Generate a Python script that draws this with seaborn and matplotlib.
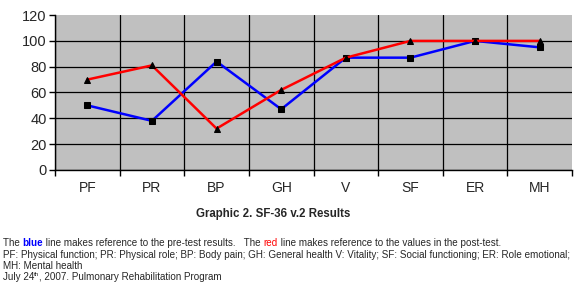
import numpy as np
import pandas as pd
import matplotlib
matplotlib.use("Agg")
import matplotlib.pyplot as plt
import seaborn as sns

categories = ["PF", "PR", "BP", "GH", "V", "SF", "ER", "MH"]
pre_test = [50, 38, 84, 47, 87, 87, 100, 95]
post_test = [70, 81, 32, 62, 87, 100, 100, 100]

sns.set_style("white")
plt.rcParams["font.family"] = ["Liberation Sans", "DejaVu Sans"]

fig = plt.figure(figsize=(5.79, 2.85), dpi=100)
ax = fig.add_axes([0.095, 0.404, 0.893, 0.543])

pos = np.arange(len(categories))
df = pd.DataFrame({"pos": np.concatenate([pos, pos]),
                   "value": pre_test + post_test,
                   "serie": ["pre"] * len(pos) + ["post"] * len(pos)})

sns.lineplot(data=df[df.serie == "pre"], x="pos", y="value", color="#0000FF",
             lw=1.8, marker="s", markersize=4.5, markerfacecolor="black",
             markeredgecolor="black", ax=ax, zorder=3)
sns.lineplot(data=df[df.serie == "post"], x="pos", y="value", color="#FF0000",
             lw=1.8, marker="^", markersize=4.5, markerfacecolor="black",
             markeredgecolor="black", ax=ax, zorder=4)

ax.set_facecolor("#C0C0C0")
ax.set_xlim(-0.5, len(categories) - 0.5)
ax.set_ylim(0, 120)
ax.set_yticks(range(0, 121, 20))
ax.set_xticks(np.arange(-0.5, len(categories), 1.0))
ax.set_xticklabels([])
ax.set_xticks(pos, minor=True)
ax.set_xticklabels(categories, minor=True)
ax.tick_params(axis="x", which="minor", length=0, labelsize=10, pad=8)
ax.tick_params(axis="x", which="major", length=4, width=1, color="black", direction="out", bottom=True)
ax.tick_params(axis="y", length=4, width=1, color="black", direction="out", left=True, labelsize=10.5, pad=2)
ax.grid(True, which="major", color="black", lw=0.9)
# no grid line along the top edge
ax.yaxis.get_gridlines()[-1].set_visible(False)
ax.xaxis.get_gridlines()[-1].set_visible(False)
ax.set_xlabel("")
ax.set_ylabel("")
for s in ["top", "right"]:
    ax.spines[s].set_visible(False)
for s in ["left", "bottom"]:
    ax.spines[s].set_color("black")
    ax.spines[s].set_linewidth(1)

fig.text(0.472, 0.25, "Graphic 2. SF-36 v.2 Results", ha="center", va="center",
         fontsize=8.3, fontweight="bold")

fs = 7.15
t1 = fig.text(0.005, 0.137, "The ", fontsize=fs, va="baseline")
t2 = ax.annotate("blue", xy=(1, 0), xycoords=t1, fontsize=fs, color="#0000FF",
                 fontweight="bold", va="bottom")
t3 = ax.annotate(" line makes reference to the pre-test results.   The ", xy=(1, 0),
                 xycoords=t2, fontsize=fs, va="bottom")
t4 = ax.annotate("red", xy=(1, 0), xycoords=t3, fontsize=fs, color="#FF0000", va="bottom")
ax.annotate(" line makes reference to the values in the post-test.", xy=(1, 0),
            xycoords=t4, fontsize=fs, va="bottom")
fig.text(0.005, 0.096, "PF: Physical function; PR: Physical role; BP: Body pain; GH: General health V: Vitality; "
         "SF: Social functioning; ER: Role emotional;", fontsize=fs, va="baseline")
fig.text(0.005, 0.056, "MH: Mental health", fontsize=fs, va="baseline")
d1 = fig.text(0.005, 0.016, "July 24", fontsize=fs, va="baseline")
d2 = ax.annotate("th", xy=(1, 0.55), xycoords=d1, fontsize=4.5, va="bottom")
ax.annotate(", 2007. Pulmonary Rehabilitation Program", xy=(1, 0), xycoords=(d2, d1),
            fontsize=fs, va="bottom")

fig.savefig("out.png", dpi=100)
